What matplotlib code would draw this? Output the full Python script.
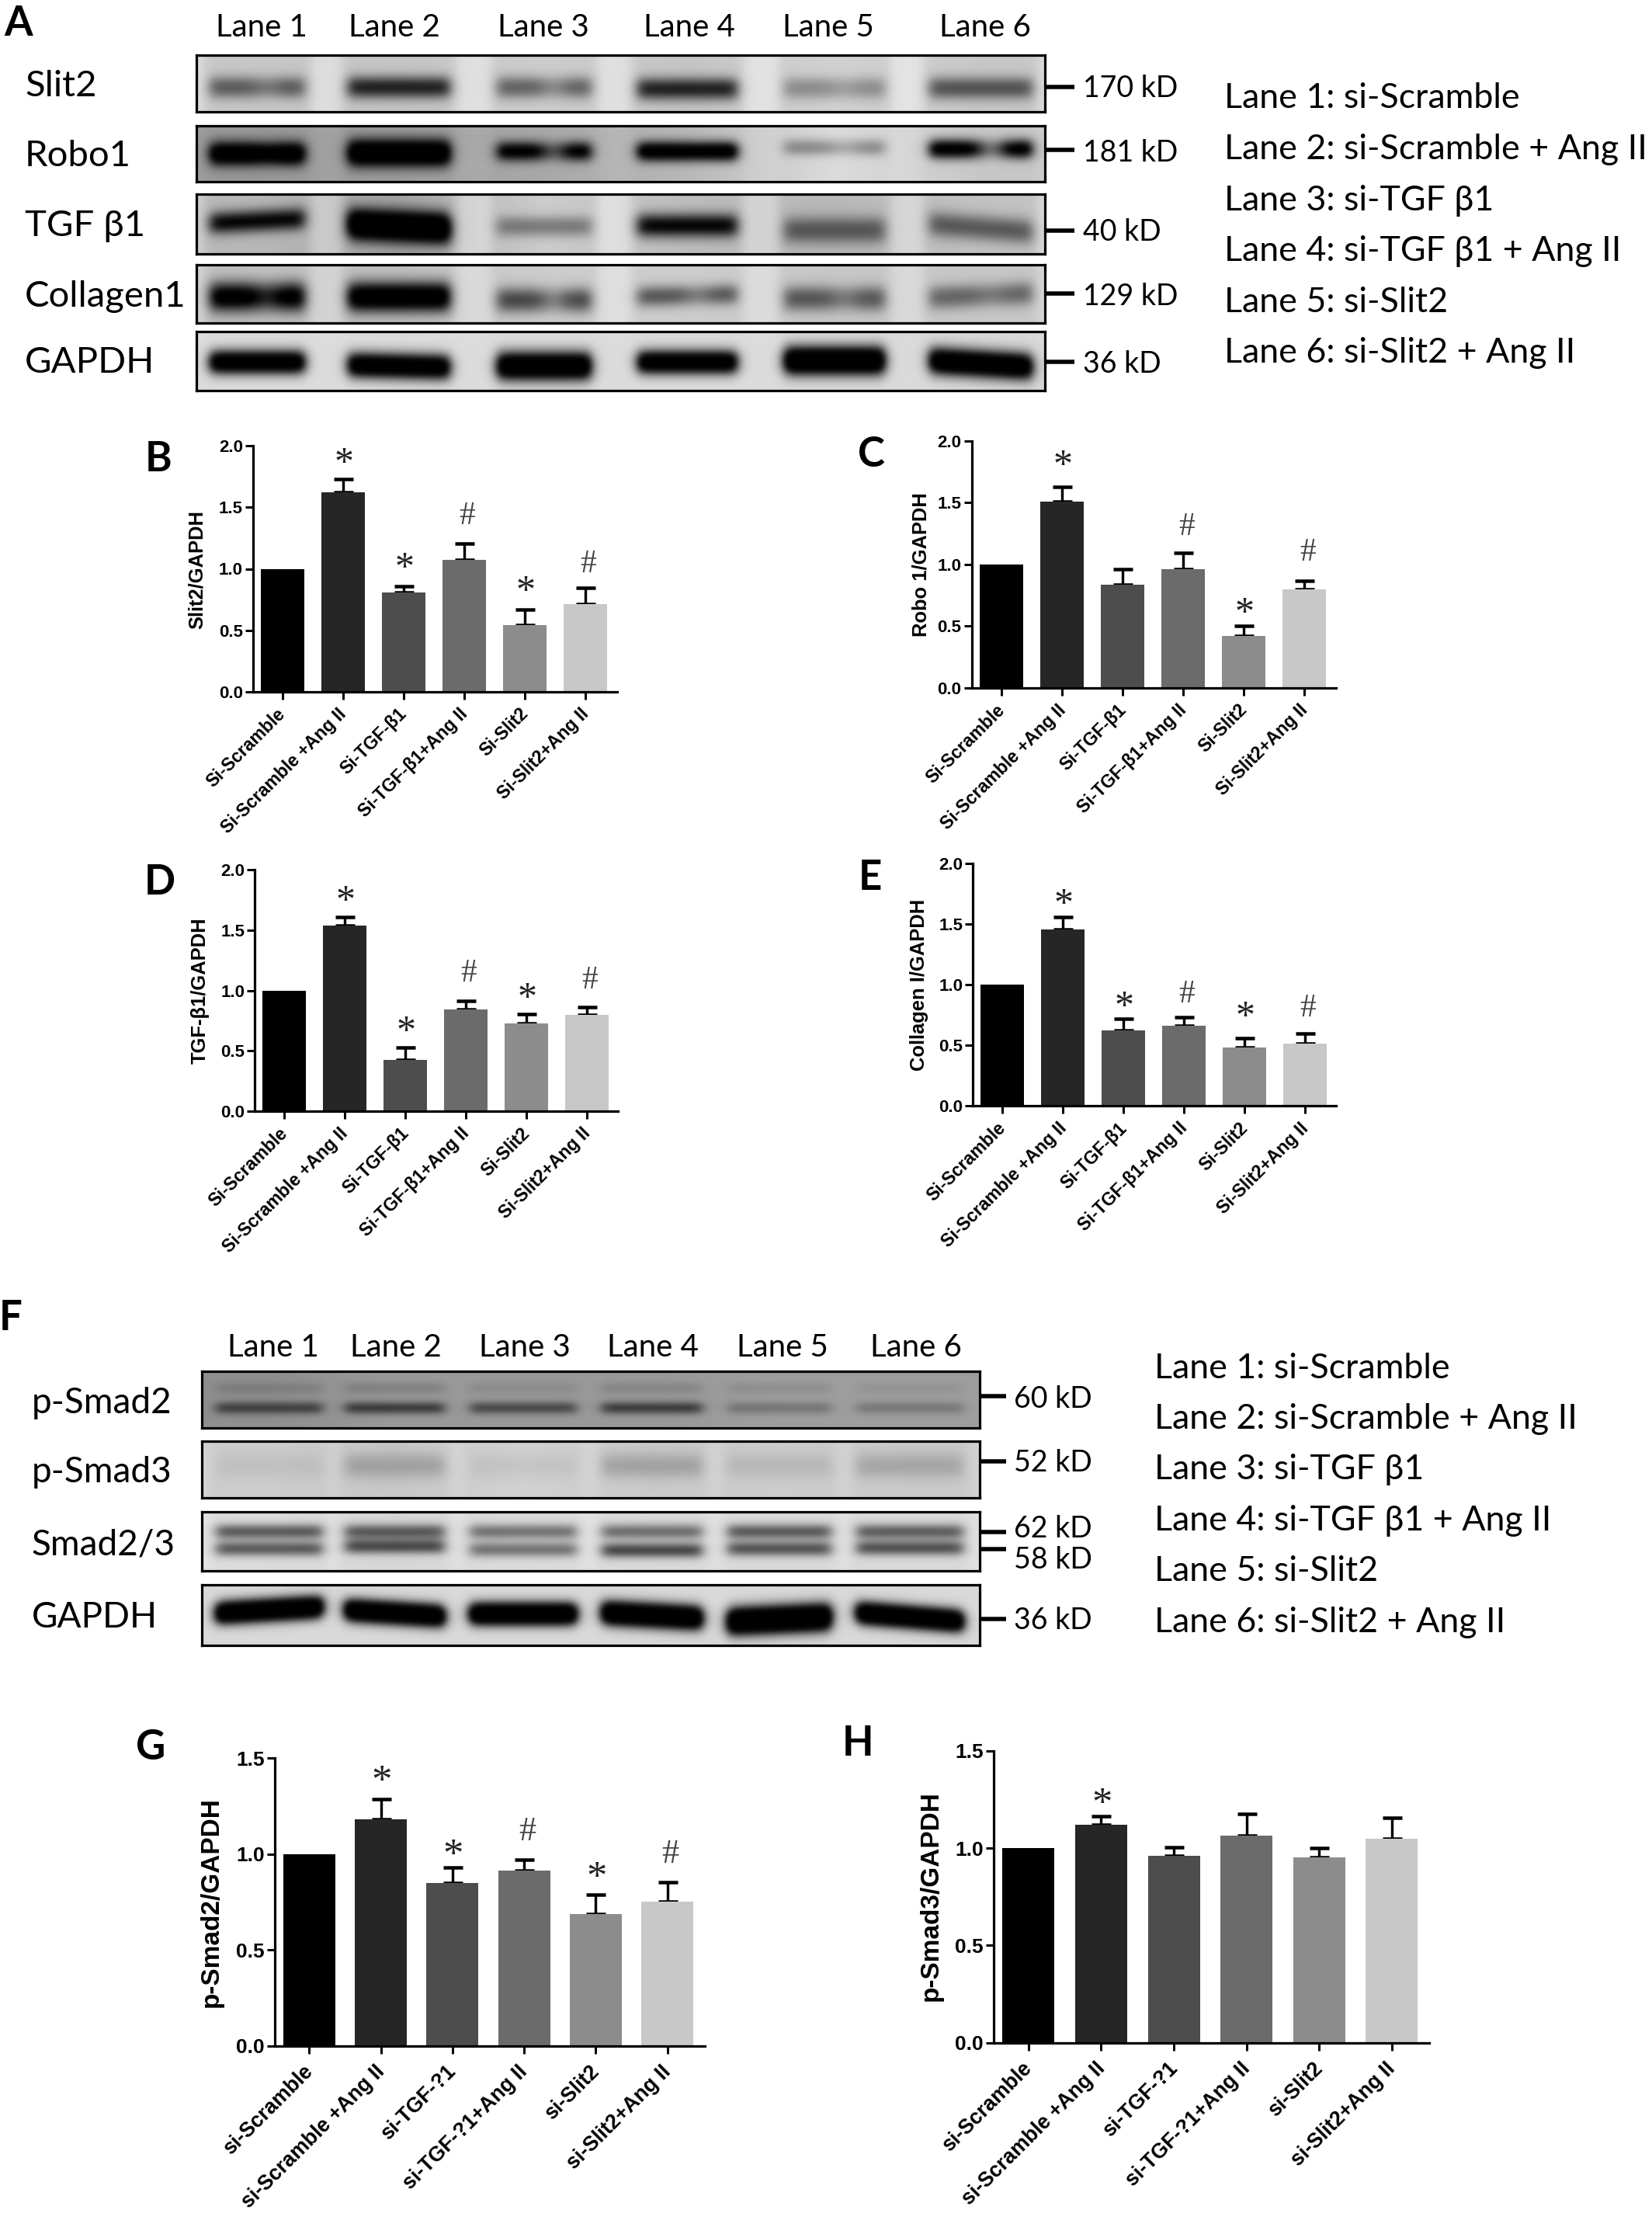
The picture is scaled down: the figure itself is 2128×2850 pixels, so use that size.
import numpy as np
import matplotlib
matplotlib.use("Agg")
import matplotlib.pyplot as plt
from matplotlib.transforms import ScaledTranslation

W, H, DPI = 2128, 2850, 100
PX = 72 / DPI
TXT = "Lato"
NUM = "Liberation Sans"
SER = "Liberation Serif"

# ---------- bar chart data ----------
labels_upper = ["Si-Scramble", "Si-Scramble +Ang II", "Si-TGF-β1", "Si-TGF-β1+Ang II", "Si-Slit2", "Si-Slit2+Ang II"]
labels_lower = ["si-Scramble", "si-Scramble +Ang II", "si-TGF-?1", "si-TGF-?1+Ang II", "si-Slit2", "si-Slit2+Ang II"]

slit2_vals = [1.0, 1.62, 0.805, 1.07, 0.54, 0.71]
slit2_errs = [0, 0.11, 0.053, 0.135, 0.128, 0.133]
slit2_marks = [(1, "*", 1.92), (2, "*", 1.07), (3, "#", 1.45), (4, "*", 0.88), (5, "#", 1.06)]

robo1_vals = [1.0, 1.51, 0.832, 0.962, 0.417, 0.797]
robo1_errs = [0, 0.115, 0.13, 0.132, 0.083, 0.067]
robo1_marks = [(1, "*", 1.86), (3, "#", 1.325), (4, "*", 0.67), (5, "#", 1.115)]

tgf_vals = [1.0, 1.537, 0.424, 0.842, 0.725, 0.797]
tgf_errs = [0, 0.068, 0.101, 0.073, 0.079, 0.063]
tgf_marks = [(1, "*", 1.807), (2, "*", 0.725), (3, "#", 1.164), (4, "*", 1.003), (5, "#", 1.106)]

col_vals = [1.0, 1.46, 0.626, 0.665, 0.483, 0.513]
col_errs = [0, 0.098, 0.094, 0.068, 0.077, 0.087]
col_marks = [(1, "*", 1.731), (2, "*", 0.882), (3, "#", 0.947), (4, "*", 0.803), (5, "#", 0.829)]

psmad2_vals = [1.0, 1.18, 0.85, 0.916, 0.689, 0.752]
psmad2_errs = [0, 0.106, 0.082, 0.056, 0.099, 0.10]
psmad2_marks = [(1, "*", 1.418), (2, "*", 1.034), (3, "#", 1.132), (4, "*", 0.916), (5, "#", 1.017)]

psmad3_vals = [1.0, 1.118, 0.959, 1.062, 0.954, 1.049]
psmad3_errs = [0, 0.044, 0.045, 0.112, 0.048, 0.106]
psmad3_marks = [(1, "*", 1.265)]

bar_colors = ["#000000", "#262626", "#4d4d4d", "#6b6b6b", "#8c8c8c", "#c8c8c8"]


def bar_panel(rect, ymax, yticks, vals, errs, marks, xlabels, ylabel, ylab_pos, fs):
    xaxis, y0, ytop, tick0, tick5, xend, barw = rect
    ax = fig.add_axes([xaxis / W, 1 - y0 / H, (xend - xaxis) / W, (y0 - ytop) / H])
    step = (tick5 - tick0) / 5
    ax.set_xlim((xaxis - tick0) / step, (xend - tick0) / step)
    ax.set_ylim(0, ymax)
    x = np.arange(6)
    ax.bar(x, vals, width=barw / step, color=bar_colors, zorder=2)
    ax.errorbar(x[1:], vals[1:], yerr=[np.zeros(5), errs[1:]], fmt="none", ecolor="k",
                elinewidth=3.4 * PX, capsize=12.5 * PX, capthick=4.5 * PX, zorder=1)
    for s in ("top", "right"):
        ax.spines[s].set_visible(False)
    for s in ("left", "bottom"):
        ax.spines[s].set_linewidth(3.2 * PX)
    ax.patch.set_alpha(0)
    ax.set_yticks(yticks)
    ax.set_yticklabels([f"{t:.1f}" for t in yticks], family=NUM, weight="bold", fontsize=fs["tick"])
    ax.set_xticks(x)
    ax.set_xticklabels(xlabels, family=NUM, weight="bold", fontsize=fs["x"], rotation=45,
                       ha="right", va="top", rotation_mode="anchor")
    ax.tick_params(axis="y", length=10 * PX, width=3 * PX, pad=3 * PX)
    ax.tick_params(axis="x", length=10 * PX, width=3 * PX, pad=fs["xpad"] * PX)
    shift = ScaledTranslation(fs["xshift"] / DPI, 0, fig.dpi_scale_trans)
    for lab in ax.get_xticklabels():
        lab.set_transform(lab.get_transform() + shift)
    for i, sym, y in marks:
        dx = 4 if sym == "#" else 1
        size = fs["star"] if sym == "*" else fs["hash"]
        ax.annotate(sym, xy=(i, y), xytext=(dx * PX, -(0.47 if sym == "*" else 0.338) * size),
                    textcoords="offset points", ha="center", va="baseline", family=SER,
                    fontsize=size, color="#222222" if sym == "*" else "#444444",
                    annotation_clip=False)
    page.text(ylab_pos[0], ylab_pos[1], ylabel, rotation=90, ha="center", va="center",
              family=NUM, weight="bold", fontsize=fs["ylab"])
    return ax


# ---------- western blot data (band darkness per lane, estimated) ----------
lanes_a = [(270, 392), (448, 579), (640, 761), (821, 949), (1010, 1139), (1197, 1329)]
lanes_f = [(278, 415), (444, 572), (605, 742), (775, 904), (937, 1070), (1103, 1240)]

slit2_bg = [0.78, 0.77, 0.80, 0.77, 0.82, 0.78]
slit2_dark = [0.55, 0.85, 0.52, 0.85, 0.33, 0.60]
slit2_y = [112, 112, 112, 114, 113, 113]
slit2_waist = [0.25, 0.0, 0.35, 0.0, 0.25, 0.0]

robo1_bg = [0.60, 0.62, 0.66, 0.72, 0.86, 0.78]
robo1_dark = [1.45, 1.6, 1.15, 1.35, 0.36, 1.2]
robo1_y = [198, 197, 195, 195, 190, 192]
robo1_waist = [0.1, 0.0, 0.5, 0.05, 0.35, 0.6]

tgfb_bg = [0.72, 0.66, 0.80, 0.74, 0.72, 0.76]
tgfb_dark = [1.0, 1.7, 0.40, 1.0, 0.55, 0.55]
tgfb_y = [284, 291, 291, 290, 296, 293]
tgfb_waist = [0.0] * 6

coll_bg = [0.76, 0.76, 0.80, 0.80, 0.78, 0.78]
coll_dark = [1.15, 1.3, 0.66, 0.58, 0.58, 0.5]
coll_y = [382, 382, 386, 380, 384, 380]
coll_waist = [0.25, 0.0, 0.4, 0.3, 0.3, 0.2]

gapdh_a_bg = [0.86, 0.86, 0.86, 0.86, 0.86, 0.85]
gapdh_a_dark = [1.4, 1.4, 1.5, 1.4, 1.6, 1.5]
gapdh_a_y = [466, 471, 471, 466, 464, 468]

psmad2_bg = [0.56, 0.60, 0.60, 0.60, 0.62, 0.62]
psmad2_up = [0.14, 0.16, 0.10, 0.14, 0.10, 0.07]
psmad2_low = [0.62, 0.68, 0.58, 0.68, 0.28, 0.26]

psmad3_bg = [0.80, 0.78, 0.82, 0.79, 0.80, 0.79]
psmad3_dark = [0.06, 0.20, 0.06, 0.20, 0.10, 0.18]

smad23_bg = [0.86, 0.84, 0.86, 0.85, 0.85, 0.85]
smad23_up = [0.62, 0.62, 0.50, 0.52, 0.62, 0.60]
smad23_low = [0.62, 0.70, 0.50, 0.72, 0.65, 0.66]

gapdh_f_bg = [0.85, 0.85, 0.85, 0.85, 0.85, 0.85]
gapdh_f_dark = [1.8, 1.8, 1.8, 1.8, 1.9, 1.8]
gapdh_f_y = [2073, 2077, 2078, 2080, 2085, 2082]
gapdh_f_tilt = [-8, 8, 0, 7, -6, 11]

zeros6 = [0] * 6


def blur(img, s=3.0):
    k = np.exp(-0.5 * (np.arange(-9, 10) / s) ** 2)
    k /= k.sum()
    pad = np.pad(img, 9, mode="edge")
    pad = np.apply_along_axis(lambda v: np.convolve(v, k, mode="same"), 0, pad)
    pad = np.apply_along_axis(lambda v: np.convolve(v, k, mode="same"), 1, pad)
    return pad[9:-9, 9:-9]


def strip(box, lanes, bg, gap, bands):
    x0, x1, y0, y1 = box
    xs = np.arange(x0, x1)
    ys = np.arange(y0, y1)
    X, Y = np.meshgrid(xs, ys)
    centers = [(a + b) / 2 for a, b in lanes]
    base = np.interp(X, centers, bg)
    lane_mask = np.zeros_like(base)
    for a, b in lanes:
        lane_mask += 0.5 * (np.tanh((X - a + 8) / 7) - np.tanh((X - b - 8) / 7))
    base = base + gap * (1 - np.clip(lane_mask, 0, 1))
    dark = np.zeros_like(base)
    for yc, sig, dk, tilt, waist in bands:
        for i, (a, b) in enumerate(lanes):
            m = (a + b) / 2
            xp = 0.5 * (np.tanh((X - a) / 8) - np.tanh((X - b) / 8))
            xp = xp * (1 - waist[i] * np.exp(-((X - m - 0.1 * (b - a)) / (0.16 * (b - a))) ** 2))
            d = (Y - yc[i] - tilt[i] * (X - m) / (b - a)) / sig[i]
            dark += dk[i] * xp * np.exp(-np.abs(d) ** 2.2)
    img = blur(np.clip(base * (1 - dark), 0, 1))
    ax = fig.add_axes([x0 / W, 1 - y1 / H, (x1 - x0) / W, (y1 - y0) / H])
    ax.imshow(img, cmap="gray", vmin=0, vmax=1, aspect="auto", interpolation="bilinear")
    ax.set_xticks([])
    ax.set_yticks([])
    for s in ax.spines.values():
        s.set_linewidth(3.2 * PX)


def t(x, y, s, size, ha="left", weight="normal"):
    page.text(x, y, s, ha=ha, va="center_baseline", family=TXT, fontsize=size, weight=weight)


fig = plt.figure(figsize=(W / DPI, H / DPI), dpi=DPI, facecolor="white")
page = fig.add_axes([0, 0, 1, 1], zorder=5)
page.set_xlim(0, W)
page.set_ylim(H, 0)
page.axis("off")
page.patch.set_alpha(0)

strip((253, 1346, 71, 144), lanes_a, slit2_bg, 0.09, [(slit2_y, [14] * 6, slit2_dark, zeros6, slit2_waist)])
strip((253, 1346, 162, 234), lanes_a, robo1_bg, 0.02, [(robo1_y, [15, 17, 12, 12, 10, 12], robo1_dark, zeros6, robo1_waist)])
strip((253, 1346, 250, 327), lanes_a, tgfb_bg, 0.10, [(tgfb_y, [14, 20, 13, 15, 17, 16], tgfb_dark, [-6, 6, 0, 0, 0, 10], tgfb_waist)])
strip((253, 1346, 341, 416), lanes_a, coll_bg, 0.07, [(coll_y, [19, 19, 16, 13, 16, 15], coll_dark, [0, 0, 0, -3, 0, -6], coll_waist)])
strip((253, 1346, 427, 503), lanes_a, gapdh_a_bg, 0.0, [(gapdh_a_y, [15, 16, 18, 15, 18, 17], gapdh_a_dark, [0, 3, 0, 0, 0, 8], zeros6)])

strip((260, 1262, 1766, 1839), lanes_f, psmad2_bg, 0.0,
      [([1788] * 6, [7] * 6, psmad2_up, zeros6, zeros6), ([1813] * 6, [7] * 6, psmad2_low, zeros6, zeros6)])
strip((260, 1262, 1856, 1929), lanes_f, psmad3_bg, 0.03, [([1887] * 6, [16] * 6, psmad3_dark, zeros6, zeros6)])
strip((260, 1262, 1947, 2023), lanes_f, smad23_bg, 0.03,
      [([1972] * 6, [9] * 6, smad23_up, zeros6, zeros6),
       ([1994, 1991, 1995, 1996, 1994, 1993], [9] * 6, smad23_low, zeros6, zeros6)])
strip((260, 1262, 2041, 2119), lanes_f, gapdh_f_bg, 0.0, [(gapdh_f_y, [14, 14, 14, 15, 17, 14], gapdh_f_dark, gapdh_f_tilt, zeros6)])

# ---------- blot annotation text ----------
lane_names = ["Lane 1", "Lane 2", "Lane 3", "Lane 4", "Lane 5", "Lane 6"]
for name, x in zip(lane_names, [337, 508, 700, 888, 1067, 1269]):
    t(x, 32, name, 29, ha="center")
for name, x in zip(lane_names, [352, 510, 676, 841, 1008, 1180]):
    t(x, 1732, name, 29, ha="center")

rows_a = ["Slit2", "Robo1", "TGF β1", "Collagen1", "GAPDH"]
rows_f = ["p-Smad2", "p-Smad3", "Smad2/3", "GAPDH"]
for name, y in zip(rows_a, [107, 197, 287, 378, 463]):
    t(32, y, name, 34)
for name, y in zip(rows_f, [1803, 1892, 1985, 2079]):
    t(41, y, name, 33)

legend_lines = ["Lane 1: si-Scramble", "Lane 2: si-Scramble + Ang II", "Lane 3: si-TGF β1",
                "Lane 4: si-TGF β1 + Ang II", "Lane 5: si-Slit2", "Lane 6: si-Slit2 + Ang II"]
for s, y in zip(legend_lines, [122, 188, 254, 319, 385, 450]):
    t(1577, y, s, 32.2)
for s, y in zip(legend_lines, [1758, 1823, 1888, 1954, 2019, 2085]):
    t(1487, y, s, 32.2)

kd_a = ["170 kD", "181 kD", "40 kD", "129 kD", "36 kD"]
kd_f = ["60 kD", "52 kD", "62 kD", "58 kD", "36 kD"]
for s, ty, ly in zip(kd_a, [112, 193, 297, 378, 466], [110, 193, 295, 378, 465]):
    page.plot([1348, 1384], [ty, ty], color="k", lw=5.5 * PX, solid_capstyle="butt")
    t(1395, ly, s, 27)
for s, ty, ly in zip(kd_f, [1798, 1882, 1973, 1995, 2085], [1798, 1880, 1965, 2005, 2083]):
    page.plot([1262, 1296], [ty, ty], color="k", lw=5.5 * PX, solid_capstyle="butt")
    t(1306, ly, s, 27)

letters = [("A", 24, 26), ("B", 204, 587), ("C", 1122, 581), ("D", 206, 1132), ("E", 1121, 1126),
           ("F", 14, 1693), ("G", 194, 2246), ("H", 1105, 2241)]
for s, x, y in letters:
    t(x, y, s, 38, ha="center", weight="bold")

# ---------- bar panels ----------
fs_top = dict(tick=16, x=16.7, ylab=18.4, star=36, hash=30, xpad=7, xshift=-7.3)
fs_low = dict(tick=19, x=19.3, ylab=24, star=38, hash=32, xpad=10, xshift=-8.5)
t20 = [0, 0.5, 1.0, 1.5, 2.0]
t15 = [0, 0.5, 1.0, 1.5]

bar_panel((326, 890.7, 574.3, 363.5, 754, 795, 56), 2.0, t20, slit2_vals, slit2_errs, slit2_marks,
          labels_upper, "Slit2/GAPDH", (254, 733), fs_top)
bar_panel((1251.6, 885.7, 567.7, 1290.4, 1680.2, 1720.8, 56), 2.0, t20, robo1_vals, robo1_errs, robo1_marks,
          labels_upper, "Robo 1/GAPDH", (1186, 727), fs_top)
bar_panel((328.2, 1431, 1120, 366, 756, 796, 56), 2.0, t20, tgf_vals, tgf_errs, tgf_marks,
          labels_upper, "TGF-β1/GAPDH", (258, 1276), fs_top)
bar_panel((1253.4, 1424.3, 1112.3, 1291.3, 1680.6, 1720.8, 56), 2.0, t20, col_vals, col_errs, col_marks,
          labels_upper, "Collagen I/GAPDH", (1184, 1268), fs_top)
bar_panel((353.7, 2634.8, 2264.4, 398.3, 859.8, 907.8, 67), 1.5, t15, psmad2_vals, psmad2_errs, psmad2_marks,
          labels_lower, "p-Smad2/GAPDH", (272, 2450), fs_low)
bar_panel((1279.7, 2630.7, 2254.7, 1324.8, 1793, 1841, 67), 1.5, t15, psmad3_vals, psmad3_errs, psmad3_marks,
          labels_lower, "p-Smad3/GAPDH", (1199, 2442), fs_low)

fig.savefig("out.png", dpi=DPI, facecolor="white")
